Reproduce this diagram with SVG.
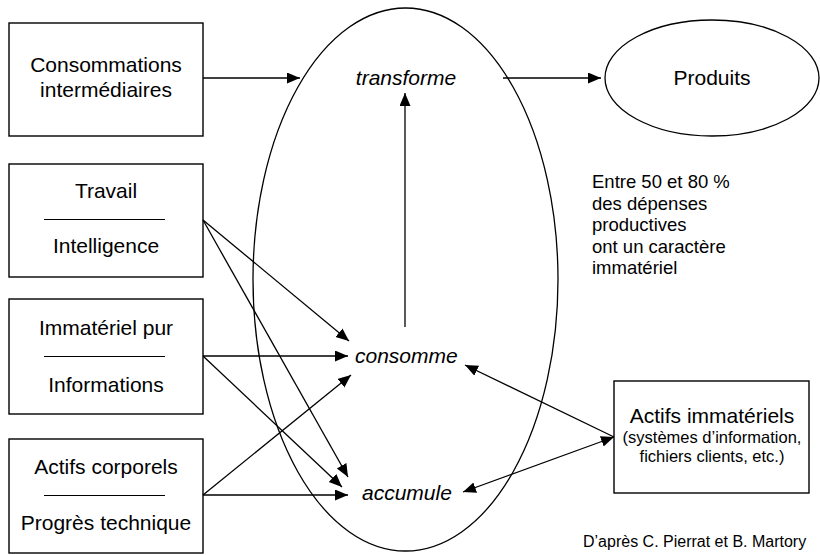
<svg xmlns="http://www.w3.org/2000/svg" width="820" height="555" viewBox="0 0 820 555">
  <style>
    .box { fill: #fff; stroke: #000; stroke-width: 1.4; }
    .sep { stroke: #000; stroke-width: 1; }
    .lbl { font-family: "Liberation Sans", Arial, sans-serif; font-size: 21px; fill: #000; text-anchor: middle; }
    .verb { font-family: "Liberation Sans", Arial, sans-serif; font-size: 21px; font-style: italic; fill: #000; }
    .small { font-family: "Liberation Sans", Arial, sans-serif; font-size: 16.5px; fill: #000; text-anchor: middle; }
    .note { font-family: "Liberation Sans", Arial, sans-serif; font-size: 18.5px; fill: #000; }
    .src { font-family: "Liberation Sans", Arial, sans-serif; font-size: 16px; fill: #000; }
    .link { fill: none; stroke: #000; stroke-width: 1.3; }
  </style>
  <defs>
    <marker id="head" markerUnits="userSpaceOnUse" markerWidth="14" markerHeight="12" refX="13" refY="5.5" orient="auto-start-reverse">
      <path d="M0,0 L13,5.5 L0,11 Z" fill="#000"/>
    </marker>
  </defs>

  <rect width="820" height="555" fill="#fff"/>

  <!-- production process -->
  <g id="process">
    <ellipse cx="405.5" cy="279.5" rx="152.5" ry="271.5" fill="none" stroke="#000" stroke-width="1.3"/>
    <text class="verb" x="406" y="85" text-anchor="middle">transforme</text>
    <text class="verb" x="355" y="363">consomme</text>
    <text class="verb" x="362" y="500">accumule</text>
  </g>

  <g id="consommations">
    <rect class="box" x="9" y="23" width="194" height="113"/>
    <text class="lbl" x="106" y="72">Consommations</text>
    <text class="lbl" x="106" y="97">intermédiaires</text>
  </g>

  <g id="travail">
    <rect class="box" x="9" y="164" width="194" height="113"/>
    <text class="lbl" x="106" y="198">Travail</text>
    <line class="sep" x1="44" y1="219.5" x2="165" y2="219.5"/>
    <text class="lbl" x="106" y="253">Intelligence</text>
  </g>

  <g id="immateriel">
    <rect class="box" x="9" y="299" width="194" height="115"/>
    <text class="lbl" x="106" y="335">Immatériel pur</text>
    <line class="sep" x1="44" y1="356.5" x2="165" y2="356.5"/>
    <text class="lbl" x="106" y="392">Informations</text>
  </g>

  <g id="corporels">
    <rect class="box" x="9" y="439" width="194" height="114"/>
    <text class="lbl" x="106" y="474">Actifs corporels</text>
    <line class="sep" x1="44" y1="495.5" x2="165" y2="495.5"/>
    <text class="lbl" x="106" y="530">Progrès technique</text>
  </g>

  <g id="produits">
    <ellipse cx="712" cy="78" rx="107" ry="58" fill="#fff" stroke="#000" stroke-width="1.3"/>
    <text class="lbl" x="712" y="85">Produits</text>
  </g>

  <g id="actifs-immateriels">
    <rect class="box" x="614" y="381" width="195" height="112"/>
    <text class="lbl" x="712" y="423">Actifs immatériels</text>
    <text class="small" x="712" y="443">(systèmes d’information,</text>
    <text class="small" x="712" y="462">fichiers clients, etc.)</text>
  </g>

  <g id="note">
    <text class="note" x="592" y="188">Entre 50 et 80 %</text>
    <text class="note" x="592" y="209.5">des dépenses</text>
    <text class="note" x="592" y="231">productives</text>
    <text class="note" x="592" y="252.5">ont un caractère</text>
    <text class="note" x="592" y="274">immatériel</text>
  </g>

  <text class="src" x="583" y="547">D’après C. Pierrat et B. Martory</text>

  <!-- connectors -->
  <g id="connectors">
    <line class="link" x1="203" y1="78" x2="300" y2="78" marker-end="url(#head)"/>
    <line class="link" x1="503" y1="78" x2="601" y2="78" marker-end="url(#head)"/>
    <line class="link" x1="405" y1="327" x2="405" y2="93" marker-end="url(#head)"/>

    <line class="link" x1="203" y1="220" x2="349" y2="341" marker-end="url(#head)"/>
    <line class="link" x1="203" y1="220" x2="348" y2="477" marker-end="url(#head)"/>

    <line class="link" x1="203" y1="356" x2="348" y2="356" marker-end="url(#head)"/>
    <line class="link" x1="203" y1="356" x2="342" y2="487" marker-end="url(#head)"/>

    <line class="link" x1="203" y1="495" x2="351" y2="375" marker-end="url(#head)"/>
    <line class="link" x1="203" y1="495" x2="348" y2="495" marker-end="url(#head)"/>

    <line class="link" x1="614" y1="437" x2="465" y2="365" marker-end="url(#head)"/>
    <line class="link" x1="463" y1="492" x2="614" y2="437" marker-start="url(#head)" marker-end="url(#head)"/>
  </g>
</svg>
